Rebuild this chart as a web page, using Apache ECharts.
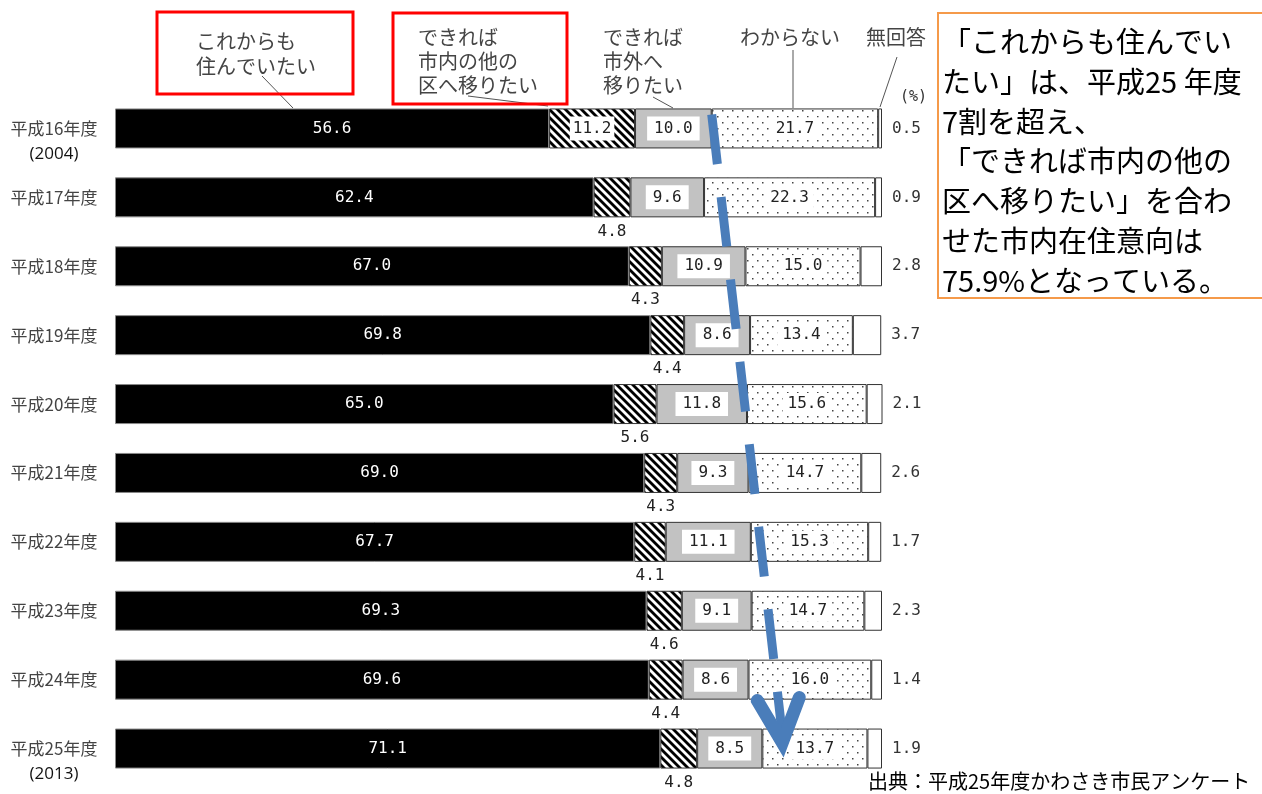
<!DOCTYPE html>
<html lang="ja">
<head>
<meta charset="utf-8">
<title>川崎市 定住意向の推移</title>
<script src="https://cdn.jsdelivr.net/npm/echarts@6/dist/echarts.min.js"></script>
<style>
  html, body { margin: 0; padding: 0; background: #ffffff; }
  #chart { width: 1262px; height: 794px; }
</style>
</head>
<body>
<div id="chart"></div>
<script>
// 年度（和暦）と西暦表記
const fiscalYears = ['平成16年度', '平成17年度', '平成18年度', '平成19年度', '平成20年度',
                     '平成21年度', '平成22年度', '平成23年度', '平成24年度', '平成25年度'];
const westernYears = ['(2004)', '', '', '', '', '', '', '', '', '(2013)'];

// 回答別の割合（%）
const stayValues      = [56.6, 62.4, 67.0, 69.8, 65.0, 69.0, 67.7, 69.3, 69.6, 71.1]; // これからも住んでいたい
const moveWithinCity  = [11.2, 4.8, 4.3, 4.4, 5.6, 4.3, 4.1, 4.6, 4.4, 4.8];         // できれば市内の他の区へ移りたい
const moveOutsideCity = [10.0, 9.6, 10.9, 8.6, 11.8, 9.3, 11.1, 9.1, 8.6, 8.5];      // できれば市外へ移りたい
const unsureValues    = [21.7, 22.3, 15.0, 13.4, 15.6, 14.7, 15.3, 14.7, 16.0, 13.7]; // わからない
const noAnswerValues  = [0.5, 0.9, 2.8, 3.7, 2.1, 2.6, 1.7, 2.3, 1.4, 1.9];          // 無回答

const seriesNames = ['これからも住んでいたい', 'できれば市内の他の区へ移りたい',
                     'できれば市外へ移りたい', 'わからない', '無回答'];

// 市内在住意向の矢印（H16 の境界付近から H25 へ）
const trendFrom = [77.8, 0];
const trendTo = [87.0, 9];

const MONO = '"DejaVu Sans Mono", "Liberation Mono", monospace';
const JP = '"Noto Sans CJK JP", "Noto Sans", sans-serif';

// 斜線ハッチング
function makeHatch() {
  const c = document.createElement('canvas');
  c.width = 8; c.height = 8;
  const g = c.getContext('2d');
  g.fillStyle = '#ffffff';
  g.fillRect(0, 0, 8, 8);
  g.strokeStyle = '#000000';
  g.lineWidth = 2.8;
  for (let k = -8; k <= 8; k += 8) {
    g.beginPath();
    g.moveTo(k - 2, -2);
    g.lineTo(k + 10, 10);
    g.stroke();
  }
  return c;
}

// 点描パターン
function makeDots() {
  const c = document.createElement('canvas');
  c.width = 10; c.height = 12;
  const g = c.getContext('2d');
  g.fillStyle = '#ffffff';
  g.fillRect(0, 0, 10, 12);
  g.fillStyle = '#444444';
  g.fillRect(2, 2, 1.5, 1.5);
  g.fillRect(7, 8, 1.5, 1.5);
  return c;
}

const fmt = p => Number(p.value).toFixed(1);
const border = { borderColor: '#333333', borderWidth: 1 };

const chart = echarts.init(document.getElementById('chart'), null, { renderer: 'canvas' });

const option = {
  backgroundColor: '#ffffff',
  animation: false,
  grid: { left: 115, top: 94, width: 767, height: 689 },
  xAxis: { type: 'value', min: 0, max: 100, show: false },
  yAxis: {
    type: 'category',
    inverse: true,
    data: fiscalYears,
    axisLine: { show: false },
    axisTick: { show: false },
    axisLabel: {
      align: 'center',
      margin: 61,
      formatter: (v, i) => westernYears[i]
        ? '{s| }\n{a|' + v + '}\n{w|' + westernYears[i] + '}'
        : '{a|' + v + '}',
      rich: {
        a: { fontFamily: JP, fontSize: 17, color: '#444444', lineHeight: 20 },
        s: { fontSize: 14, lineHeight: 32 },
        w: { fontFamily: '"Open Sans", "Noto Sans", sans-serif', fontSize: 17, color: '#111111', lineHeight: 32 }
      }
    }
  },
  series: [
    {
      name: seriesNames[0], type: 'bar', stack: 'total', barWidth: 40,
      data: stayValues,
      itemStyle: { color: '#000000', borderColor: '#888888', borderWidth: 1 },
      label: { show: true, position: 'inside', formatter: fmt, color: '#ffffff', fontFamily: MONO, fontSize: 16 }
    },
    {
      name: seriesNames[1], type: 'bar', stack: 'total', barWidth: 40,
      data: moveWithinCity.map((v, i) => i === 0
        ? { value: v, label: { position: 'inside', backgroundColor: '#ffffff', padding: [4, 3], distance: 0 } }
        : { value: v }),
      itemStyle: Object.assign({ color: { image: makeHatch(), repeat: 'repeat' } }, border),
      label: { show: true, position: 'bottom', distance: 6, formatter: fmt, color: '#222222', fontFamily: MONO, fontSize: 16 }
    },
    {
      name: seriesNames[2], type: 'bar', stack: 'total', barWidth: 40,
      data: moveOutsideCity,
      itemStyle: Object.assign({ color: '#c2c2c2' }, border),
      label: { show: true, position: 'inside', formatter: fmt, color: '#222222', fontFamily: MONO, fontSize: 16,
               backgroundColor: '#ffffff', padding: [4, 7] }
    },
    {
      name: seriesNames[3], type: 'bar', stack: 'total', barWidth: 40,
      data: unsureValues,
      itemStyle: Object.assign({ color: { image: makeDots(), repeat: 'repeat' } }, border),
      label: { show: true, position: 'inside', formatter: fmt, color: '#222222', fontFamily: MONO, fontSize: 16,
               backgroundColor: '#ffffff', padding: [3, 5] }
    },
    {
      name: seriesNames[4], type: 'bar', stack: 'total', barWidth: 40,
      data: noAnswerValues,
      itemStyle: Object.assign({ color: '#ffffff' }, border),
      label: { show: true, position: 'right', distance: 10, formatter: fmt, color: '#333333', fontFamily: MONO, fontSize: 16 }
    }
  ],
  graphic: [
    // 凡例の見出し
    { type: 'text', style: { text: 'これからも\n住んでいたい', x: 196, y: 29, font: '20px ' + JP, fill: '#444444', lineHeight: 25, align: 'left', verticalAlign: 'top' } },
    { type: 'text', style: { text: 'できれば\n市内の他の\n区へ移りたい', x: 418, y: 25, font: '20px ' + JP, fill: '#444444', lineHeight: 24, align: 'left', verticalAlign: 'top' } },
    { type: 'text', style: { text: 'できれば\n市外へ\n移りたい', x: 603, y: 25, font: '20px ' + JP, fill: '#444444', lineHeight: 24, align: 'left', verticalAlign: 'top' } },
    { type: 'text', style: { text: 'わからない', x: 740, y: 25, font: '20px ' + JP, fill: '#444444', lineHeight: 24, align: 'left', verticalAlign: 'top' } },
    { type: 'text', style: { text: '無回答', x: 866, y: 25, font: '20px ' + JP, fill: '#444444', lineHeight: 24, align: 'left', verticalAlign: 'top' } },
    { type: 'text', style: { text: '(%)', x: 900, y: 97, font: '15px ' + MONO, fill: '#333333', align: 'left', verticalAlign: 'middle' } },
    // 引き出し線
    { type: 'line', shape: { x1: 262, y1: 76, x2: 293, y2: 108 }, style: { stroke: '#555555', lineWidth: 1 } },
    { type: 'line', shape: { x1: 468, y1: 96, x2: 548, y2: 106 }, style: { stroke: '#555555', lineWidth: 1 } },
    { type: 'line', shape: { x1: 653, y1: 97, x2: 673, y2: 108 }, style: { stroke: '#555555', lineWidth: 1 } },
    { type: 'line', shape: { x1: 793, y1: 50, x2: 793, y2: 108 }, style: { stroke: '#555555', lineWidth: 1 } },
    { type: 'line', shape: { x1: 897, y1: 57, x2: 880, y2: 107 }, style: { stroke: '#555555', lineWidth: 1 } },
    // 強調枠
    { type: 'rect', shape: { x: 157, y: 12, width: 196, height: 82 }, style: { fill: 'none', stroke: '#ff0000', lineWidth: 3 } },
    { type: 'rect', shape: { x: 393, y: 13, width: 174, height: 91 }, style: { fill: 'none', stroke: '#ff0000', lineWidth: 3 } },
    // 説明ボックス
    { type: 'polyline', shape: { points: [[1262, 13], [938, 13], [938, 298], [1262, 298]] }, style: { fill: 'none', stroke: '#f59a4a', lineWidth: 2 } },
    { type: 'text', style: {
        text: '「これからも住んでい\nたい」は、平成25 年度\n7割を超え、\n「できれば市内の他の\n区へ移りたい」を合わ\nせた市内在住意向は\n75.9%となっている。',
        x: 942, y: 22, font: '29px ' + JP, fill: '#000000', lineHeight: 39.8, align: 'left', verticalAlign: 'top' } },
    // 出典
    { type: 'text', style: { text: '出典：平成25年度かわさき市民アンケート', x: 868, y: 781, font: '20px ' + JP, fill: '#000000', align: 'left', verticalAlign: 'middle' } }
  ]
};

chart.setOption(option);

// 矢印はデータ座標から位置を求めて描く
const p0 = chart.convertToPixel({ gridIndex: 0 }, trendFrom);
const p1 = chart.convertToPixel({ gridIndex: 0 }, trendTo);
const start = [p0[0], p0[1] - 14];
const tip = [p1[0], p1[1] - 6];
chart.setOption({
  graphic: [
    { id: 'trendLine', type: 'line', z: 10,
      shape: { x1: start[0], y1: start[1], x2: tip[0], y2: tip[1] - 8 },
      style: { stroke: '#4a7dba', lineWidth: 9, lineDash: [50, 33] } },
    { id: 'trendHead', type: 'polyline', z: 10,
      shape: { points: [[tip[0] - 25, tip[1] - 42], tip, [tip[0] + 17, tip[1] - 45]] },
      style: { fill: 'none', stroke: '#4a7dba', lineWidth: 13, lineCap: 'round', lineJoin: 'miter' } }
  ]
});
</script>
</body>
</html>
